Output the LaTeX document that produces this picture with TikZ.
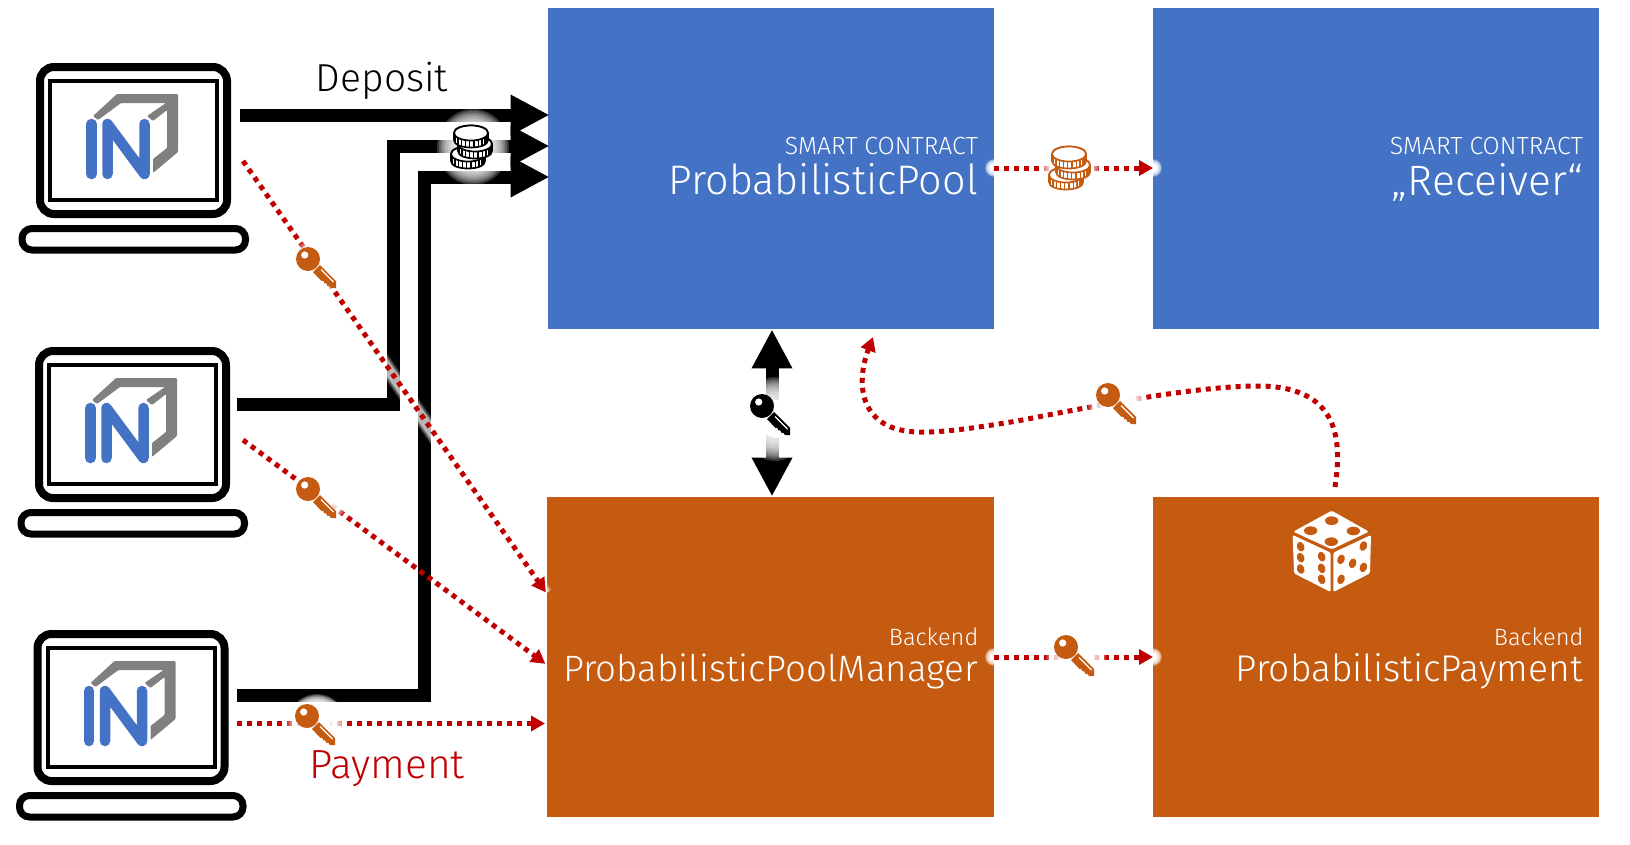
\documentclass[tikz,border=0pt]{standalone}
\usepackage{fontspec}
\setmainfont{Fira Sans Light}
\usetikzlibrary{arrows.meta}
\definecolor{poolblue}{HTML}{4472C4}
\definecolor{backorange}{HTML}{C55A11}
\definecolor{dotred}{HTML}{C00000}
\definecolor{logogray}{HTML}{808080}
\newcommand{\softglow}[4]{%
  \foreach \f in {1.0,.95,...,.5}{\fill[white,fill opacity=.2] (#1,#2) ellipse [x radius={\f*#3},y radius={\f*#4}];}%
  \fill[white] (#1,#2) ellipse [x radius={.45*#3},y radius={.45*#4}];%
}
\tikzset{
  x=1pt,y=-1pt,
  box/.style={anchor=north west,inner sep=0pt,minimum width=446pt,minimum height=321pt,draw=none},
  smalltxt/.style={anchor=base east,inner sep=0pt,text=white,font=\fontsize{24.8}{26}\selectfont},
  backtxt/.style={anchor=base east,inner sep=0pt,text=white,font=\fontsize{23.6}{26}\selectfont},
  bigtxt/.style={anchor=base east,inner sep=0pt,text=white},
  blackarrow/.style={line width=13pt,shorten >=-1.5pt,-{Triangle[length=39pt,width=38pt]}},
  redarrow/.style={line width=5pt,dotred,dash pattern=on 5pt off 5pt,-{Triangle[length=14pt,width=15pt]}},
  pics/laptop/.style={code={
    \draw[line width=8pt,black,rounded corners=14pt] (40,67) rectangle (227,214);
    \draw[line width=4pt,black] (50,81) rectangle (217,200);
    \draw[line width=7pt,black,rounded corners=10pt] (22,228.5) rectangle (245.5,250);
    \fill[logogray,rounded corners=1pt] (93,116) -- (117,94) -- (178,94) -- (178,152) -- (153,173) -- (153,159) -- (167,148) -- (167,110) -- (153,121) -- (147,116) -- (166,103) -- (121,103) -- (98,120) -- cycle;
    \draw[poolblue,line width=10.5pt,line cap=round,line join=round] (91.5,124) -- (91.5,174);
    \draw[poolblue,line width=10.5pt,line cap=round,line join=round] (107.5,174) -- (107.5,124) -- (144.5,174) -- (144.5,124);
  }},
  pics/keyicon/.style={code={
    \fill[#1] (0,0) circle (12);
    \fill[#1] (12,6) -- (28,22) -- (28,29) -- (23,29) -- (21,26.5) -- (19.5,27) -- (18,24) -- (16.5,24.5) -- (15,21.5) -- (13.5,22) -- (5,13) -- cycle;
    \fill[white] (-3.3,-4) circle (3.6);
    \draw[white,line width=1.3pt] (13,10.5) -- (25.5,23);
  }},
  pics/coinstack/.style={code={
    \foreach \cx/\cy in {-3/21,4/11,0/0}{
      \begin{scope}[shift={(\cx,\cy)}]
        \path[fill=white,draw=#1,line width=1.7pt] (-17,0) -- (-17,7) .. controls (-17,17) and (17,17) .. (17,7) -- (17,0) .. controls (17,-10) and (-17,-10) .. (-17,0) -- cycle;
        \foreach \a in {20,35,...,160}{
          \draw[#1,line width=1.2pt] ({17*cos(\a)},{7.5*sin(\a)}) -- ({17*cos(\a)},{7.5*sin(\a)+7});
        }
        \path[fill=white,draw=#1,line width=1.7pt] (0,0) ellipse [x radius=17,y radius=7.5];
      \end{scope}
    }
  }},
}
\begin{document}
\begin{tikzpicture}
\useasboundingbox (0,0) rectangle (1630,844);
% boxes
\node[box,fill=poolblue] (pool) at (548,8) {};
\node[box,fill=poolblue] (recv) at (1153,8) {};
\node[box,fill=backorange,minimum width=447pt,minimum height=320.5pt] (mgr) at (547,496.5) {};
\node[box,fill=backorange,minimum height=320.5pt] (pay) at (1153,496.5) {};
% box texts
\node[smalltxt] (t1) at (978,154.5) {SMART CONTRACT};
\node[bigtxt,font=\fontsize{41.3}{43}\selectfont] (t2) at (978,194) {ProbabilisticPool};
\node[smalltxt] (t3) at (1583,154.5) {SMART CONTRACT};
\node[bigtxt,font=\fontsize{42.5}{44}\selectfont] (t4) at (1583,195) {„Receiver“};
\node[backtxt] (t5) at (978.5,645) {Backend};
\node[bigtxt,font=\fontsize{36.7}{38}\selectfont] (t6) at (978,681.5) {ProbabilisticPoolManager};
\node[backtxt] (t7) at (1583.5,645) {Backend};
\node[bigtxt,font=\fontsize{37.2}{39}\selectfont] (t8) at (1583,681.5) {ProbabilisticPayment};
\node[anchor=base,inner sep=0pt,font=\fontsize{39}{41}\selectfont] (dep) at (382,91) {Deposit};
% laptops
\pic (lap1) at (0,0) {laptop};
\pic (lap2) at (-1,284) {laptop};
\pic (lap3) at (-2.5,567) {laptop};
% connector ends
\coordinate (d1) at (240,115);
\coordinate (d2) at (237,404);
\coordinate (d3) at (237,695.5);
\coordinate (k2a) at (393,404);
\coordinate (k3a) at (424,695.5);
\coordinate (k2b) at (393,146);
\coordinate (k3b) at (424,177);
\coordinate (r1) at (243,161);
\coordinate (r2) at (243,440);
\coordinate (r3) at (237,723.5);
\coordinate (c0) at (1335,487);
\coordinate (c1) at (1255,386);
\coordinate (c2) at (1017,421);
\coordinate (c3) at (917,432);
\coordinate (ctip) at (873,337);
% black arrows
\draw[blackarrow] (d1) -- (pool.west |- d1);
\draw[blackarrow,line join=miter] (d2) -- (k2a) -- (k2b) -- (pool.west |- k2b);
\draw[blackarrow,line join=miter] (d3) -- (k3a) -- (k3b) -- (pool.west |- k3b);
\draw[line width=13pt,{Triangle[length=39pt,width=38pt]}-{Triangle[length=39pt,width=38pt]}] (pool.south -| 772,0) -- (mgr.north -| 772,0);
% glows
\softglow{473}{147}{36}{38}
\softglow{775}{419}{34}{42}
\softglow{317}{724}{30}{30}
\softglow{994}{168}{9}{9}
\softglow{1153}{168}{9}{9}
\softglow{994}{657}{9}{9}
\softglow{1153}{657}{9}{9}
% halo of the red line over the black ones
\draw[white,opacity=.2,line width=16pt] (r1) -- (545,594);
\draw[white,opacity=.3,line width=13pt] (r1) -- (545,594);
\draw[white,opacity=.5,line width=10pt] (r1) -- (545,594);
% red connectors
\draw[redarrow,shorten >=2pt] (r1) -- (mgr.west |- 0,594);
\draw[redarrow,shorten >=2pt] (r2) -- (mgr.west |- 0,665);
\draw[redarrow,shorten >=2pt] (r3) -- (mgr.west |- r3);
\draw[redarrow] (pool.east |- 0,168) -- (recv.west |- 0,168);
\draw[redarrow] (mgr.east |- 0,657) -- (pay.west |- 0,657);
\draw[redarrow] (c0) .. controls (1342,440) and (1340,385) .. (c1) .. controls (1190,387) and (1100,405) .. (c2) .. controls (975,428) and (940,433) .. (c3) .. controls (860,430) and (855,385) .. (ctip);
% glows behind the icons
\softglow{318}{268}{30}{30}
\softglow{318}{498}{30}{30}
\softglow{317}{725}{30}{30}
\softglow{1076}{656}{30}{30}
\softglow{1118}{404}{30}{30}
\softglow{1070}{166}{30}{30}
% label over the glow
\node[anchor=base,inner sep=0pt,text=dotred,font=\fontsize{40.7}{42}\selectfont] (paylab) at (387,778) {Payment};
% icons
\pic at (308,259) {keyicon=backorange};
\pic at (308,489) {keyicon=backorange};
\pic at (307,716) {keyicon=backorange};
\pic at (1066,647) {keyicon=backorange};
\pic at (1108,395) {keyicon=backorange};
\pic at (762,406) {keyicon=black};
\pic at (471,133) {coinstack=black};
\pic at (1069,154) {coinstack=backorange};
% die
\begin{scope}[shift={(1270,490)},x=.3333pt,y=-.3333pt]
  \fill[white,rounded corners=1.5pt] (185,62) -- (297,125) -- (185,178) -- (70,125) -- cycle;
  \fill[white,rounded corners=1.5pt] (68,135) -- (182,188) -- (182,306) -- (72,250) -- cycle;
  \fill[white,rounded corners=1.5pt] (190,188) -- (303,135) -- (300,250) -- (190,306) -- cycle;
  \foreach \px/\py in {185/92,122/122,250/123,184/155}{\fill[backorange] (\px,\py) ellipse [x radius=20,y radius=13];}
  \foreach \px/\py in {92/170,155/200,92/203,155/235,92/237,155/268}{\fill[backorange,shift={(\px,\py)},rotate=20] (0,0) ellipse [x radius=11,y radius=15];}
  \foreach \px/\py in {213/208,280/168,248/220,213/268,280/232}{\fill[backorange,shift={(\px,\py)},rotate=-20] (0,0) ellipse [x radius=11,y radius=15];}
\end{scope}
\end{tikzpicture}
\end{document}
